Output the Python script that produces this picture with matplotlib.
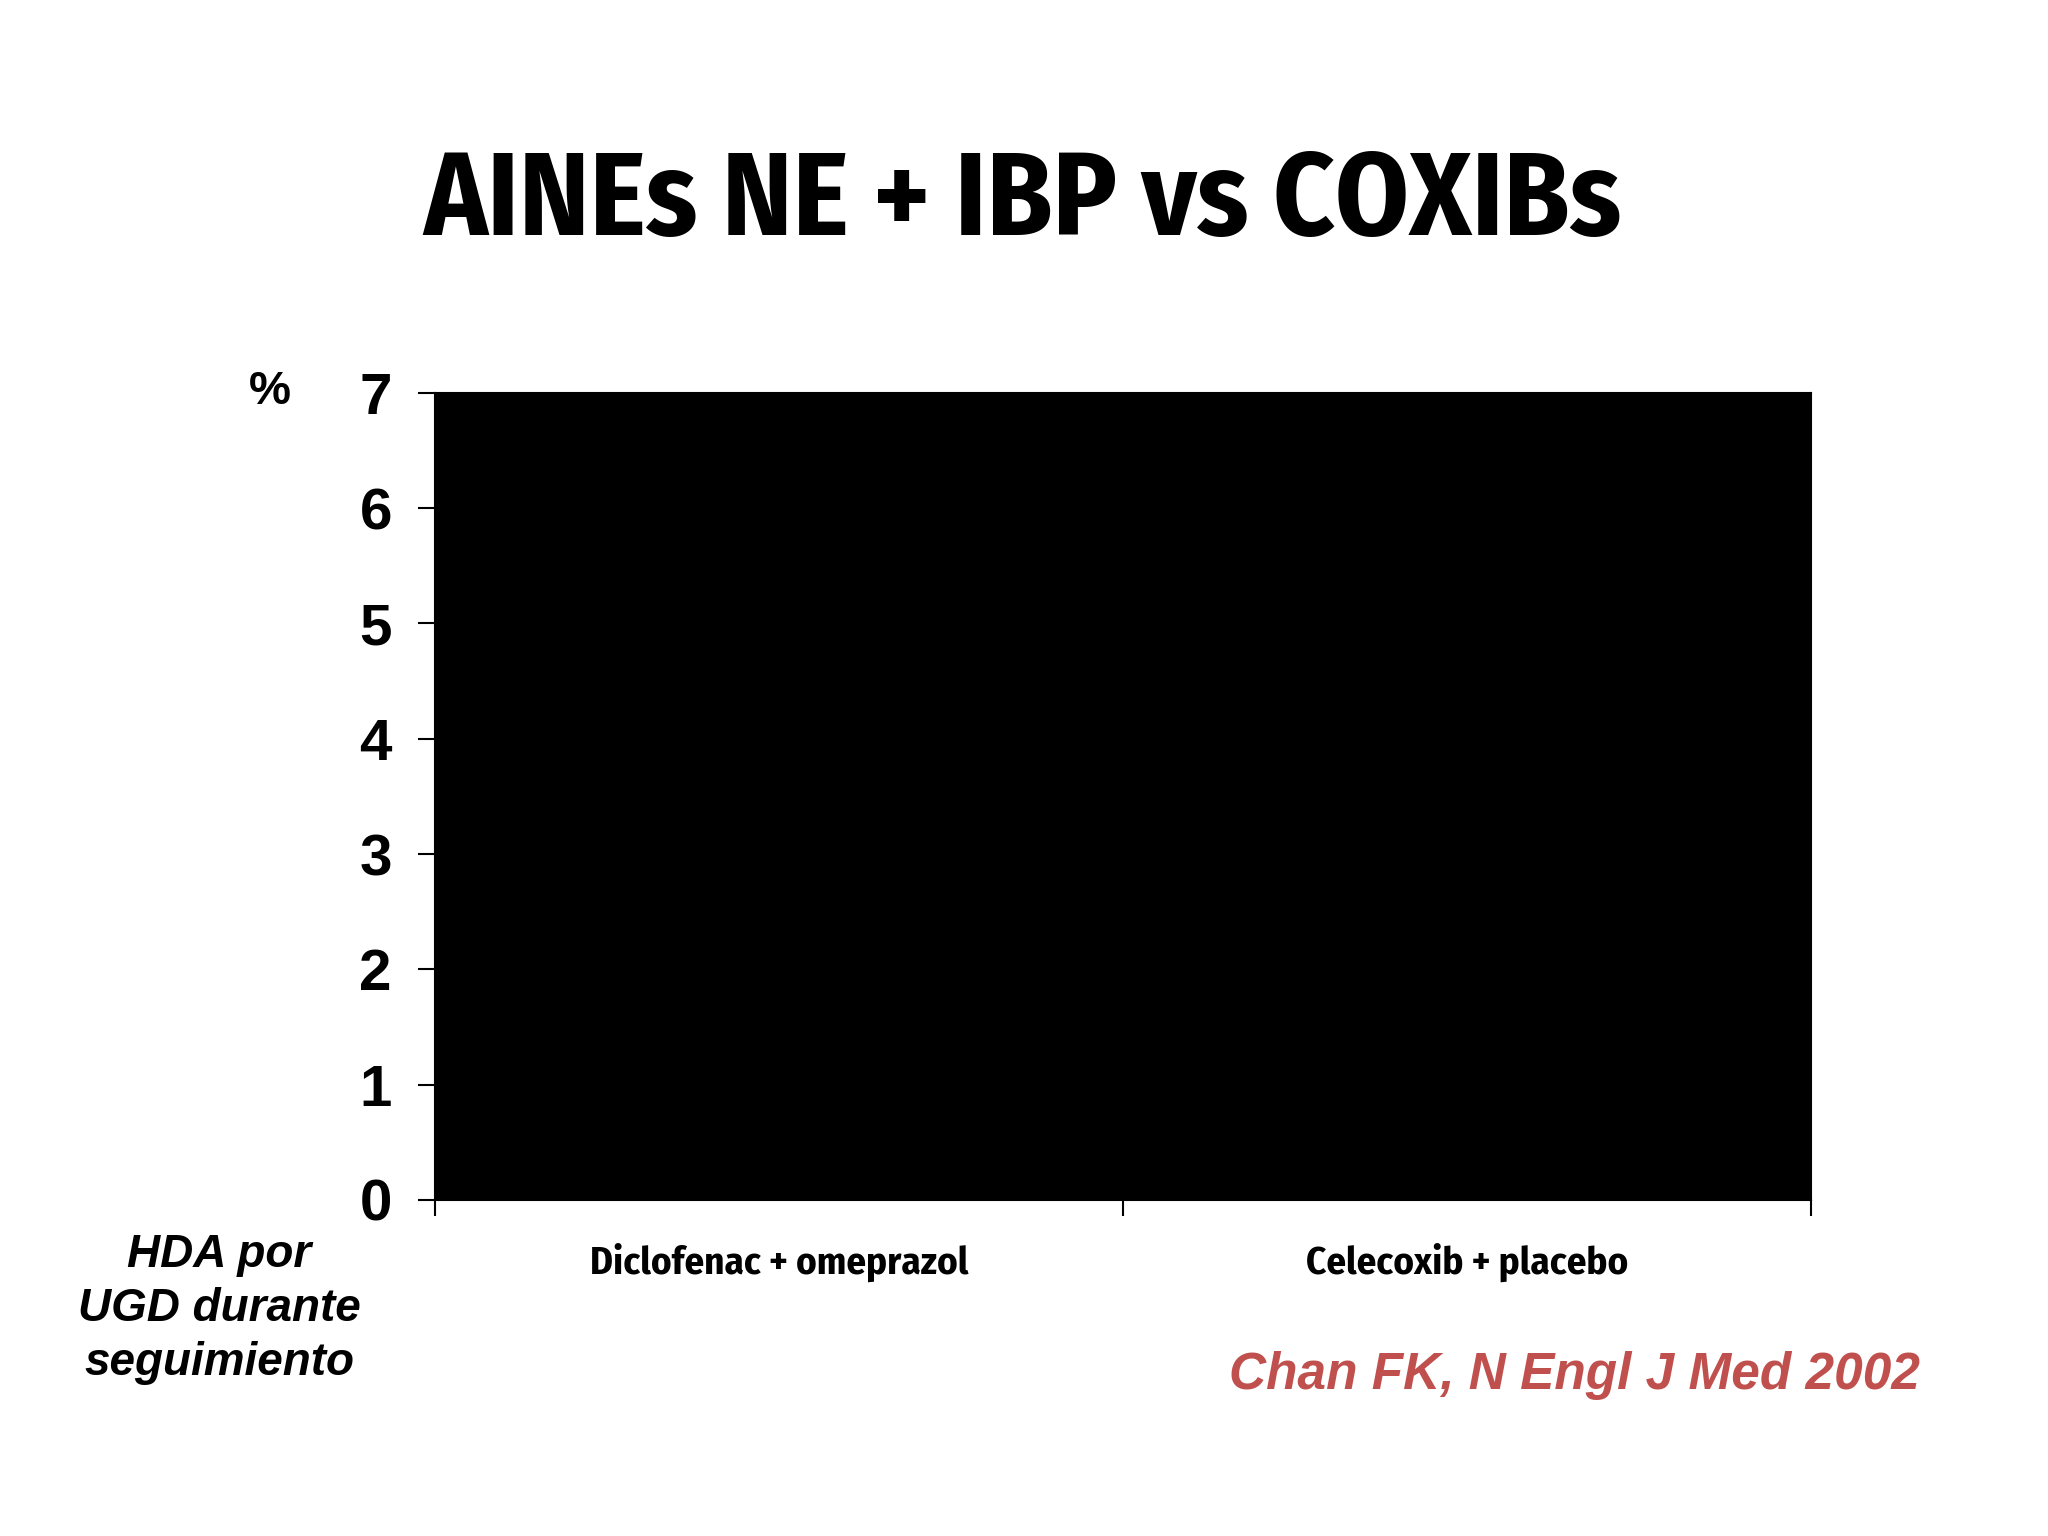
import matplotlib
matplotlib.use('Agg')
import matplotlib.pyplot as plt
from matplotlib.ticker import FixedLocator, NullFormatter

# chart content
title = 'AINEs NE + IBP vs COXIBs'
categories = ['Diclofenac + omeprazol', 'Celecoxib + placebo']
y_ticks = [0, 1, 2, 3, 4, 5, 6, 7]
y_unit = '%'
side_note = 'HDA por\nUGD durante\nseguimiento'
source = 'Chan FK, N Engl J Med 2002'

narrow = ['Fira Sans Condensed', 'Liberation Sans', 'DejaVu Sans']
sans = ['Liberation Sans', 'DejaVu Sans']

fig = plt.figure(figsize=(20.48, 15.36), dpi=100)
fig.patch.set_facecolor('white')
ax = fig.add_axes([0.2124, 0.2188, 0.672, 0.5254])
ax.set_facecolor('black')

n = len(categories)
ax.set_xlim(0, n)
ax.set_ylim(y_ticks[0], y_ticks[-1])

# y axis
ax.set_yticks(y_ticks)
ax.set_yticklabels([str(t) for t in y_ticks], family=sans, fontweight='bold', fontsize=42)
ax.tick_params(axis='y', direction='out', length=12, width=1.5, pad=19, colors='black')

# x axis: ticks on the category boundaries, labels in the middle
ax.xaxis.set_major_locator(FixedLocator(list(range(n + 1))))
ax.xaxis.set_major_formatter(NullFormatter())
ax.xaxis.set_minor_locator(FixedLocator([i + 0.5 for i in range(n)]))
ax.set_xticklabels(categories, minor=True, family=narrow, fontweight='bold', fontsize=28)
ax.tick_params(axis='x', which='major', direction='out', length=11.5, width=1.5)
ax.tick_params(axis='x', which='minor', length=0, pad=31)

for s in ax.spines.values():
    s.set_color('black')
    s.set_linewidth(1.5)

fig.text(0.499, 1 - 203 / 1536, title, ha='center', va='center',
         family=narrow, fontweight='bold', fontsize=85)
fig.text(270 / 2048, 1 - 392 / 1536, y_unit, ha='center', va='center',
         family=sans, fontweight='bold', fontsize=34)
fig.text(219 / 2048, 1 - 1309 / 1536, side_note, ha='center', va='center',
         family=sans, fontweight='bold', fontstyle='italic', fontsize=33,
         linespacing=1.3)
fig.text(1920 / 2048, 1 - 1376 / 1536, source, ha='right', va='center',
         family=sans, fontweight='bold', fontstyle='italic', fontsize=37,
         color='#C0504D')

fig.savefig('out.png', dpi=100)
